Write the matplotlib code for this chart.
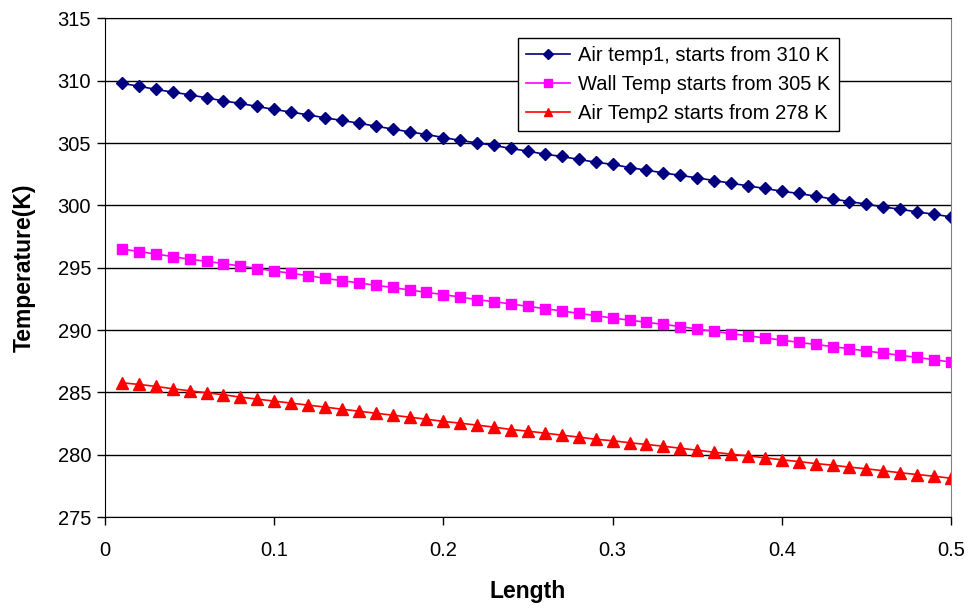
import numpy as np
import matplotlib
matplotlib.use('Agg')
import matplotlib.pyplot as plt

plt.rcParams['font.family'] = ['Liberation Sans', 'DejaVu Sans']

# length positions (m) and temperatures (K)
length = [round(0.01 * i, 2) for i in range(1, 51)]

air_temp1 = [309.79, 309.57, 309.31, 309.09, 308.88, 308.63, 308.39, 308.18, 307.94, 307.70,
             307.49, 307.27, 307.03, 306.82, 306.60, 306.36, 306.13, 305.90, 305.69, 305.45,
             305.21, 305.02, 304.81, 304.57, 304.35, 304.11, 303.93, 303.69, 303.47, 303.29,
             303.04, 302.83, 302.61, 302.41, 302.21, 302.00, 301.78, 301.57, 301.36, 301.14,
             300.96, 300.74, 300.52, 300.31, 300.10, 299.88, 299.69, 299.48, 299.29, 299.08]

wall_temp = [296.51, 296.30, 296.10, 295.90, 295.68, 295.52, 295.33, 295.14, 294.93, 294.74,
             294.55, 294.37, 294.15, 293.97, 293.78, 293.59, 293.42, 293.21, 293.03, 292.84,
             292.65, 292.44, 292.28, 292.09, 291.90, 291.72, 291.53, 291.34, 291.16, 290.96,
             290.80, 290.62, 290.46, 290.28, 290.08, 289.90, 289.71, 289.55, 289.36, 289.20,
             289.01, 288.85, 288.67, 288.51, 288.31, 288.15, 287.97, 287.81, 287.62, 287.43]

air_temp2 = [285.77, 285.64, 285.48, 285.29, 285.13, 284.97, 284.81, 284.62, 284.46, 284.30,
             284.14, 283.98, 283.82, 283.65, 283.49, 283.33, 283.17, 283.01, 282.85, 282.67,
             282.53, 282.37, 282.21, 282.02, 281.89, 281.73, 281.57, 281.41, 281.24, 281.12,
             280.96, 280.82, 280.68, 280.52, 280.36, 280.20, 280.04, 279.91, 279.75, 279.59,
             279.45, 279.29, 279.16, 279.00, 278.87, 278.71, 278.55, 278.41, 278.27, 278.11]

labels = ['Air temp1, starts from 310 K',
          'Wall Temp starts from 305 K',
          'Air Temp2 starts from 278 K']

fig = plt.figure(figsize=(9.74, 6.12), dpi=100)
ax = fig.add_axes([0.1078, 0.1552, 0.8686, 0.8146])

ax.plot(length, air_temp1, color='#000080', marker='D', markersize=6, lw=1.2, label=labels[0])
ax.plot(length, wall_temp, color='#FF00FF', marker='s', markersize=7, lw=1.2, label=labels[1])
ax.plot(length, air_temp2, color='#FF0000', marker='^', markersize=8, lw=1.2, label=labels[2])

ax.set_xlim(0, 0.5)
ax.set_ylim(275, 315)
ax.set_xticks(np.arange(0, 0.51, 0.1))
ax.set_xticklabels(['0', '0.1', '0.2', '0.3', '0.4', '0.5'])
ax.set_yticks(np.arange(275, 316, 5))
ax.yaxis.grid(True, color='black', lw=1)
ax.set_axisbelow(True)

ax.tick_params(axis='both', labelsize=14.5, direction='out', length=6, width=1, colors='black')
ax.tick_params(axis='x', pad=11)
ax.tick_params(axis='y', pad=4)

for side in ['left', 'bottom', 'top']:
    ax.spines[side].set_color('black')
ax.spines['right'].set_color('#808080')

ax.set_xlabel('Length', fontsize=16.5, fontweight='bold', labelpad=15)
ax.set_ylabel('Temperature(K)', fontsize=16.5, fontweight='bold', labelpad=16)

leg = ax.legend(loc='upper left', bbox_to_anchor=(0.488, 0.961), fontsize=14.5,
                borderaxespad=0, frameon=True, fancybox=False, edgecolor='black',
                framealpha=1, handlelength=2.2, handletextpad=0.4, borderpad=0.4,
                labelspacing=0.5, markerscale=0.8)
leg.get_frame().set_linewidth(1)

fig.savefig('out.png', dpi=100)
